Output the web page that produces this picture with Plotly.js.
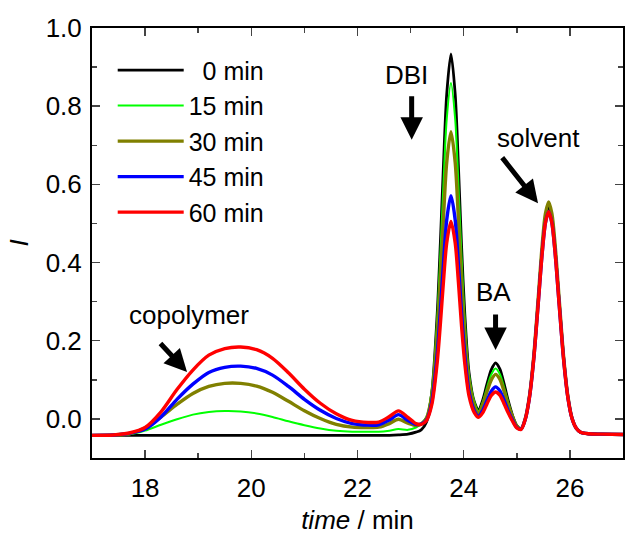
<!DOCTYPE html>
<html>
<head>
<meta charset="utf-8">
<script src="https://cdn.plot.ly/plotly-3.0.1.min.js"></script>
<style>html,body{margin:0;padding:0;background:#fff}#chart{width:627px;height:535px}</style>
</head>
<body>
<div id="chart"></div>
<script>
// retention time (min)
const time = [17.0, 17.4, 17.7, 18.0, 18.3, 18.6, 18.9, 19.2, 19.5, 19.8, 20.1, 20.4, 20.7, 21.0, 21.3, 21.6, 21.9, 22.2, 22.4, 22.6, 22.77, 22.95, 23.1,
  23.2, 23.3, 23.4, 23.5, 23.56, 23.62, 23.68, 23.76, 23.84, 23.9, 23.96, 24.02, 24.1, 24.2, 24.28, 24.36, 24.44, 24.52, 24.6, 24.68, 24.76, 24.84, 24.92, 25.0, 25.08,
  25.16, 25.24, 25.32, 25.4, 25.48, 25.54, 25.6, 25.66, 25.72, 25.8, 25.88, 25.96, 26.04, 26.12, 26.2, 26.35, 26.6, 27.0];

const seriesNames = ['\u00a0\u00a00 min', '15 min', '30 min', '45 min', '60 min'];
const seriesColors = ['#000000', '#00ff00', '#808000', '#0000ff', '#ff0000'];
const seriesWidths = [2.8, 2, 3.4, 3.4, 3.4];

const I_0min = [-0.042, -0.042, -0.042, -0.042, -0.042, -0.042, -0.042, -0.042, -0.042, -0.042, -0.042, -0.042, -0.042, -0.042, -0.042, -0.042, -0.042, -0.042, -0.042, -0.042, -0.041, -0.039, -0.034,
  -0.028, -0.008, 0.069, 0.266, 0.449, 0.653, 0.830, 0.934, 0.830, 0.649, 0.441, 0.270, 0.119, 0.044, 0.024, 0.049, 0.090, 0.126, 0.143, 0.128, 0.090, 0.046, 0.009, -0.017, -0.026,
  0.000, 0.059, 0.159, 0.297, 0.439, 0.516, 0.545, 0.516, 0.439, 0.297, 0.159, 0.059, 0.002, -0.024, -0.034, -0.038, -0.039, -0.040];

const I_15min = [-0.042, -0.042, -0.040, -0.030, -0.015, -0.001, 0.011, 0.0175, 0.020, 0.019, 0.014, 0.005, -0.006, -0.016, -0.0245, -0.0305, -0.033, -0.033, -0.033, -0.030, -0.026, -0.028, -0.022,
  -0.012, 0.005, 0.074, 0.253, 0.419, 0.605, 0.766, 0.859, 0.766, 0.601, 0.412, 0.254, 0.114, 0.044, 0.020, 0.044, 0.081, 0.114, 0.129, 0.115, 0.081, 0.042, 0.008, -0.017, -0.024,
  0.001, 0.060, 0.161, 0.300, 0.444, 0.521, 0.550, 0.521, 0.444, 0.300, 0.161, 0.060, 0.002, -0.024, -0.034, -0.038, -0.039, -0.040];

const I_30min = [-0.042, -0.041, -0.038, -0.023, 0.005, 0.037, 0.065, 0.083, 0.091, 0.091, 0.084, 0.068, 0.045, 0.021, 0.001, -0.014, -0.021, -0.022, -0.021, -0.012, -0.001, -0.011, -0.017,
  -0.013, 0.002, 0.061, 0.215, 0.357, 0.517, 0.656, 0.735, 0.656, 0.513, 0.350, 0.216, 0.096, 0.034, 0.014, 0.037, 0.070, 0.100, 0.114, 0.102, 0.071, 0.035, 0.005, -0.018, -0.025,
  0.001, 0.060, 0.162, 0.303, 0.448, 0.526, 0.555, 0.526, 0.448, 0.303, 0.162, 0.060, 0.002, -0.024, -0.034, -0.038, -0.039, -0.040];

const I_45min = [-0.042, -0.041, -0.037, -0.026, 0.005, 0.050, 0.089, 0.119, 0.132, 0.135, 0.129, 0.112, 0.083, 0.050, 0.022, 0.001, -0.012, -0.016, -0.015, -0.003, 0.011, -0.004, -0.014,
  -0.013, -0.003, 0.044, 0.164, 0.275, 0.400, 0.509, 0.571, 0.509, 0.397, 0.270, 0.164, 0.069, 0.021, 0.007, 0.022, 0.047, 0.071, 0.082, 0.072, 0.048, 0.020, -0.003, -0.022, -0.026,
  -0.001, 0.056, 0.154, 0.289, 0.427, 0.502, 0.530, 0.502, 0.427, 0.289, 0.154, 0.056, 0.001, -0.024, -0.034, -0.038, -0.039, -0.040];

const I_60min = [-0.042, -0.041, -0.036, -0.022, 0.018, 0.075, 0.125, 0.163, 0.180, 0.184, 0.177, 0.155, 0.118, 0.076, 0.040, 0.013, -0.004, -0.009, -0.008, 0.006, 0.0205, 0.004, -0.012,
  -0.014, -0.004, 0.037, 0.143, 0.242, 0.353, 0.450, 0.505, 0.450, 0.351, 0.237, 0.143, 0.059, 0.016, 0.004, 0.016, 0.039, 0.060, 0.069, 0.061, 0.039, 0.015, -0.006, -0.023, -0.027,
  -0.001, 0.056, 0.154, 0.289, 0.427, 0.502, 0.530, 0.502, 0.427, 0.289, 0.154, 0.056, 0.001, -0.024, -0.034, -0.038, -0.039, -0.040];

const seriesValues = [I_0min, I_15min, I_30min, I_45min, I_60min];

// peak labels
const labelText = ['DBI', 'BA', 'solvent', 'copolymer'];
const labelX = [22.93, 24.555, 25.40, 18.82];
const labelY = [0.88, 0.325, 0.718, 0.266];
// arrows: head position (data) and tail offset (px)
const arrowX = [23.02, 24.60, 25.40, 18.79];
const arrowY = [0.714, 0.176, 0.552, 0.120];
const arrowAX = [0, 0, -37, -28];
const arrowAY = [-45, -37, -47, -30];

const FONT = 'Liberation Sans, Arial, sans-serif';
const FS = 26;

const traces = seriesValues.map((vals, i) => ({
  x: time, y: vals, type: 'scatter', mode: 'lines', name: seriesNames[i],
  line: {color: seriesColors[i], width: seriesWidths[i], shape: 'spline', smoothing: 0.8}
}));

const annotations = [];
labelText.forEach((t, i) => {
  annotations.push({x: labelX[i], y: labelY[i], xref: 'x', yref: 'y', text: t, showarrow: false,
    font: {family: FONT, size: FS, color: '#000'}});
  annotations.push({x: arrowX[i], y: arrowY[i], xref: 'x', yref: 'y', text: '', showarrow: true,
    ax: arrowAX[i], ay: arrowAY[i], arrowhead: 2, arrowsize: 0.9, arrowwidth: 5, arrowcolor: '#000'});
});

const layout = {
  width: 627, height: 535,
  margin: {l: 92, r: 4, t: 28, b: 77},
  paper_bgcolor: '#fff', plot_bgcolor: '#fff',
  font: {family: FONT, size: FS, color: '#000'},
  showlegend: true,
  legend: {x: 0.039, y: 0.955, xanchor: 'left', yanchor: 'top', bgcolor: 'rgba(0,0,0,0)',
    font: {family: FONT, size: 25}, itemwidth: 66, tracegroupgap: 0},
  xaxis: {
    range: [17, 27], tick0: 18, dtick: 2, ticks: 'inside', ticklen: 8, tickwidth: 1.5,
    showline: true, linewidth: 2, linecolor: '#000', mirror: 'allticks', showgrid: false, zeroline: false,
    minor: {dtick: 1, tick0: 17, ticks: 'inside', ticklen: 5, tickwidth: 1.5, showgrid: false},
    title: {text: '<i>time</i> / min', font: {family: FONT, size: FS}, standoff: 18},
    tickfont: {family: FONT, size: FS}, ticklabelstandoff: 6
  },
  yaxis: {
    range: [-0.1, 1.0], tick0: 0, dtick: 0.2, tickformat: '.1f', ticks: 'inside', ticklen: 8, tickwidth: 1.5,
    showline: true, linewidth: 2, linecolor: '#000', mirror: 'allticks', showgrid: false, zeroline: false,
    minor: {dtick: 0.1, tick0: 0, ticks: 'inside', ticklen: 5, tickwidth: 1.5, showgrid: false},
    title: {text: '<i>I</i>', font: {family: FONT, size: FS}, standoff: 10},
    tickfont: {family: FONT, size: FS}, ticklabelstandoff: 3
  },
  annotations: annotations
};

Plotly.newPlot('chart', traces, layout, {staticPlot: true, displayModeBar: false});
</script>
</body>
</html>
